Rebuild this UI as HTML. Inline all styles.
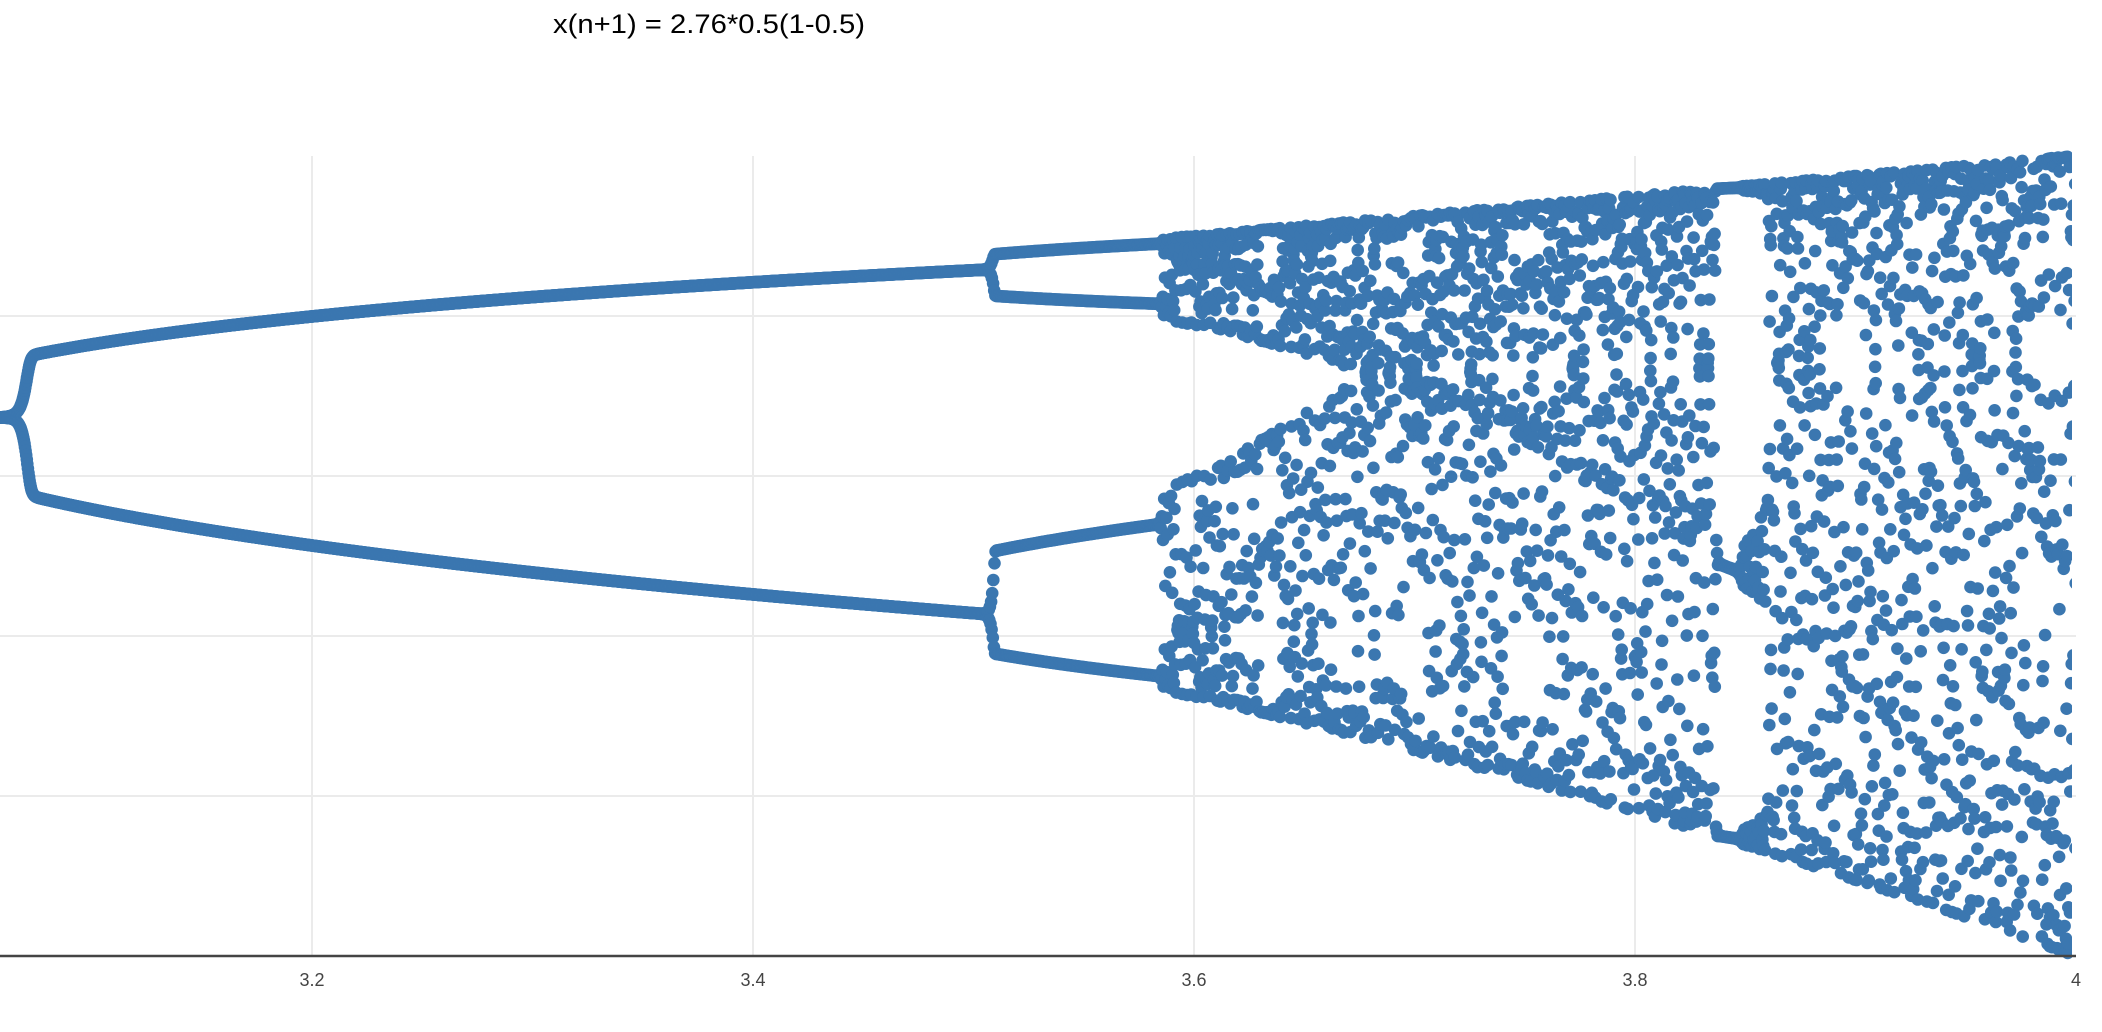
<!DOCTYPE html>
<html><head><meta charset="utf-8"><style>
html,body{margin:0;padding:0;background:#fff;}
svg{display:block;font-family:"Liberation Sans",Arial,sans-serif;}
</style></head><body>
<svg id="chart" width="2102" height="1032" viewBox="0 0 2102 1032" xmlns="http://www.w3.org/2000/svg">
<defs><clipPath id="plotclip"><rect x="0" y="150" width="2072" height="810"/></clipPath></defs>
<text x="709" y="33" text-anchor="middle" font-size="27" fill="#000" textLength="312" lengthAdjust="spacingAndGlyphs">x(n+1) = 2.76*0.5(1-0.5)</text>
<g id="grid"></g>
<g id="points" clip-path="url(#plotclip)"></g>
<line x1="0" y1="956" x2="2076" y2="956" stroke="#444" stroke-width="2.5"/>
<g id="xticks"></g>
</svg>
<script>
// data parameters
const rStart = [2.95];
const rEnd = [4.0];
const rStep = [0.00013];
const itersPerR = [1];
const x0 = [0.661017];
const xTickValues = [3.2, 3.4, 3.6, 3.8, 4];
const xTickLabels = ["3.2", "3.4", "3.6", "3.8", "4"];
const yGridValues = [0.2, 0.4, 0.6, 0.8];

const NS = "http://www.w3.org/2000/svg";
function xScale(r){ return 312 + (r - 3.2) * 2205; }
function yScale(v){ return 956 - v * 800; }

const grid = document.getElementById('grid');
xTickValues.forEach(function(t){
  if (t >= 4) return;
  const l = document.createElementNS(NS,'line');
  
  
  l.setAttribute('x1',xScale(t)); l.setAttribute('x2',xScale(t));
  l.setAttribute('y1',156); l.setAttribute('y2',956);
  l.setAttribute('stroke','#ebebeb'); l.setAttribute('stroke-width','2');
  grid.appendChild(l);
});
yGridValues.forEach(function(v){
  const l = document.createElementNS(NS,'line');
  
  
  l.setAttribute('x1',0); l.setAttribute('x2',2076);
  l.setAttribute('y1',yScale(v)); l.setAttribute('y2',yScale(v));
  l.setAttribute('stroke','#ebebeb'); l.setAttribute('stroke-width','2');
  grid.appendChild(l);
});
const xt = document.getElementById('xticks');
xTickValues.forEach(function(t,i){
  const tx = document.createElementNS(NS,'text');
  
  
  tx.setAttribute('x',xScale(t)); tx.setAttribute('y',986);
  tx.setAttribute('text-anchor','middle'); tx.setAttribute('font-size','18');
  tx.setAttribute('fill','#444');
  tx.textContent = xTickLabels[i];
  xt.appendChild(tx);
});

// logistic map with continuation across r
const pts = document.getElementById('points');
let x = x0[0];
const nSteps = Math.round((rEnd[0]-rStart[0])/rStep[0]);
const frag = document.createDocumentFragment();
for (let i=0;i<=nSteps;i++){
  const r = Math.min(rStart[0] + i*rStep[0], rEnd[0]);
  for (let k=0;k<itersPerR[0];k++){
    x = r*x*(1-x);
    const cx = xScale(r);
    if (cx < -10) continue;
    const c = document.createElementNS(NS,'circle');
    
    
    c.setAttribute('cx',cx.toFixed(1));
    c.setAttribute('cy',yScale(x).toFixed(1));
    c.setAttribute('r','6.3');
    c.setAttribute('fill','#3b77b0');
    frag.appendChild(c);
  }
}
pts.appendChild(frag);
</script>
</body></html>
